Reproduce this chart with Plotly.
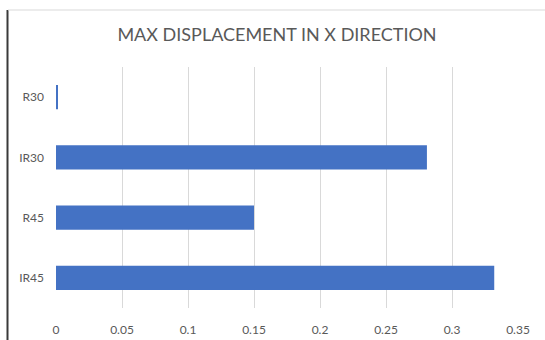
import plotly.graph_objects as go

# Maximum displacement in the X direction for each model
models = ["R30", "IR30", "R45", "IR45"]
max_disp_x = [0.001, 0.281, 0.150, 0.332]

x_ticks = [0, 0.05, 0.1, 0.15, 0.2, 0.25, 0.3, 0.35]
x_tick_text = ["0", "0.05", "0.1", "0.15", "0.2", "0.25", "0.3", "0.35"]

W, H = 545, 340
L, R, T, B = 56, 27, 67, 32
font_family = "Lato, 'Open Sans', sans-serif"
text_grey = "#595959"
grid_grey = "#d9d9d9"

fig = go.Figure(
    go.Bar(
        x=max_disp_x,
        y=models,
        orientation="h",
        marker=dict(color="#4472C4", line=dict(width=0)),
        hoverinfo="x+y",
    )
)

plot_w = W - L - R
plot_h = H - T - B

def px_x(p):
    return (p - L) / plot_w

def px_y(p):
    return 1 - (p - T) / plot_h

fig.update_layout(
    width=W,
    height=H,
    margin=dict(l=L, r=R, t=T, b=B, autoexpand=False),
    paper_bgcolor="white",
    plot_bgcolor="white",
    bargap=0.6,
    showlegend=False,
    title=dict(
        text="MAX DISPLACEMENT IN X DIRECTION",
        x=277 / W,
        xanchor="center",
        xref="container",
        y=1 - 35 / H,
        yanchor="middle",
        font=dict(family=font_family, size=18, color=text_grey),
    ),
    xaxis=dict(
        range=[0, 0.35],
        tickvals=x_ticks,
        ticktext=x_tick_text,
        showgrid=True,
        gridcolor=grid_grey,
        gridwidth=1,
        zeroline=False,
        showline=False,
        ticks="",
        automargin=False,
        ticklabelstandoff=13,
        tickfont=dict(family=font_family, size=12, color=text_grey),
        fixedrange=True,
    ),
    yaxis=dict(
        categoryorder="array",
        categoryarray=models,
        autorange="reversed",
        showgrid=False,
        zeroline=False,
        showline=False,
        ticks="",
        automargin=False,
        ticklabelstandoff=11,
        tickfont=dict(family=font_family, size=12, color=text_grey),
        fixedrange=True,
    ),
    shapes=[
        # chart frame: dark left edge and light top edge
        dict(type="line", xref="paper", yref="paper",
             x0=px_x(7.5), x1=px_x(7.5), y0=px_y(10), y1=px_y(H + 5),
             line=dict(color="#3a3a3a", width=2)),
        dict(type="line", xref="paper", yref="paper",
             x0=px_x(8), x1=px_x(W + 5), y0=px_y(10), y1=px_y(10),
             line=dict(color=grid_grey, width=1)),
    ],
)

fig.write_html("out.html")
